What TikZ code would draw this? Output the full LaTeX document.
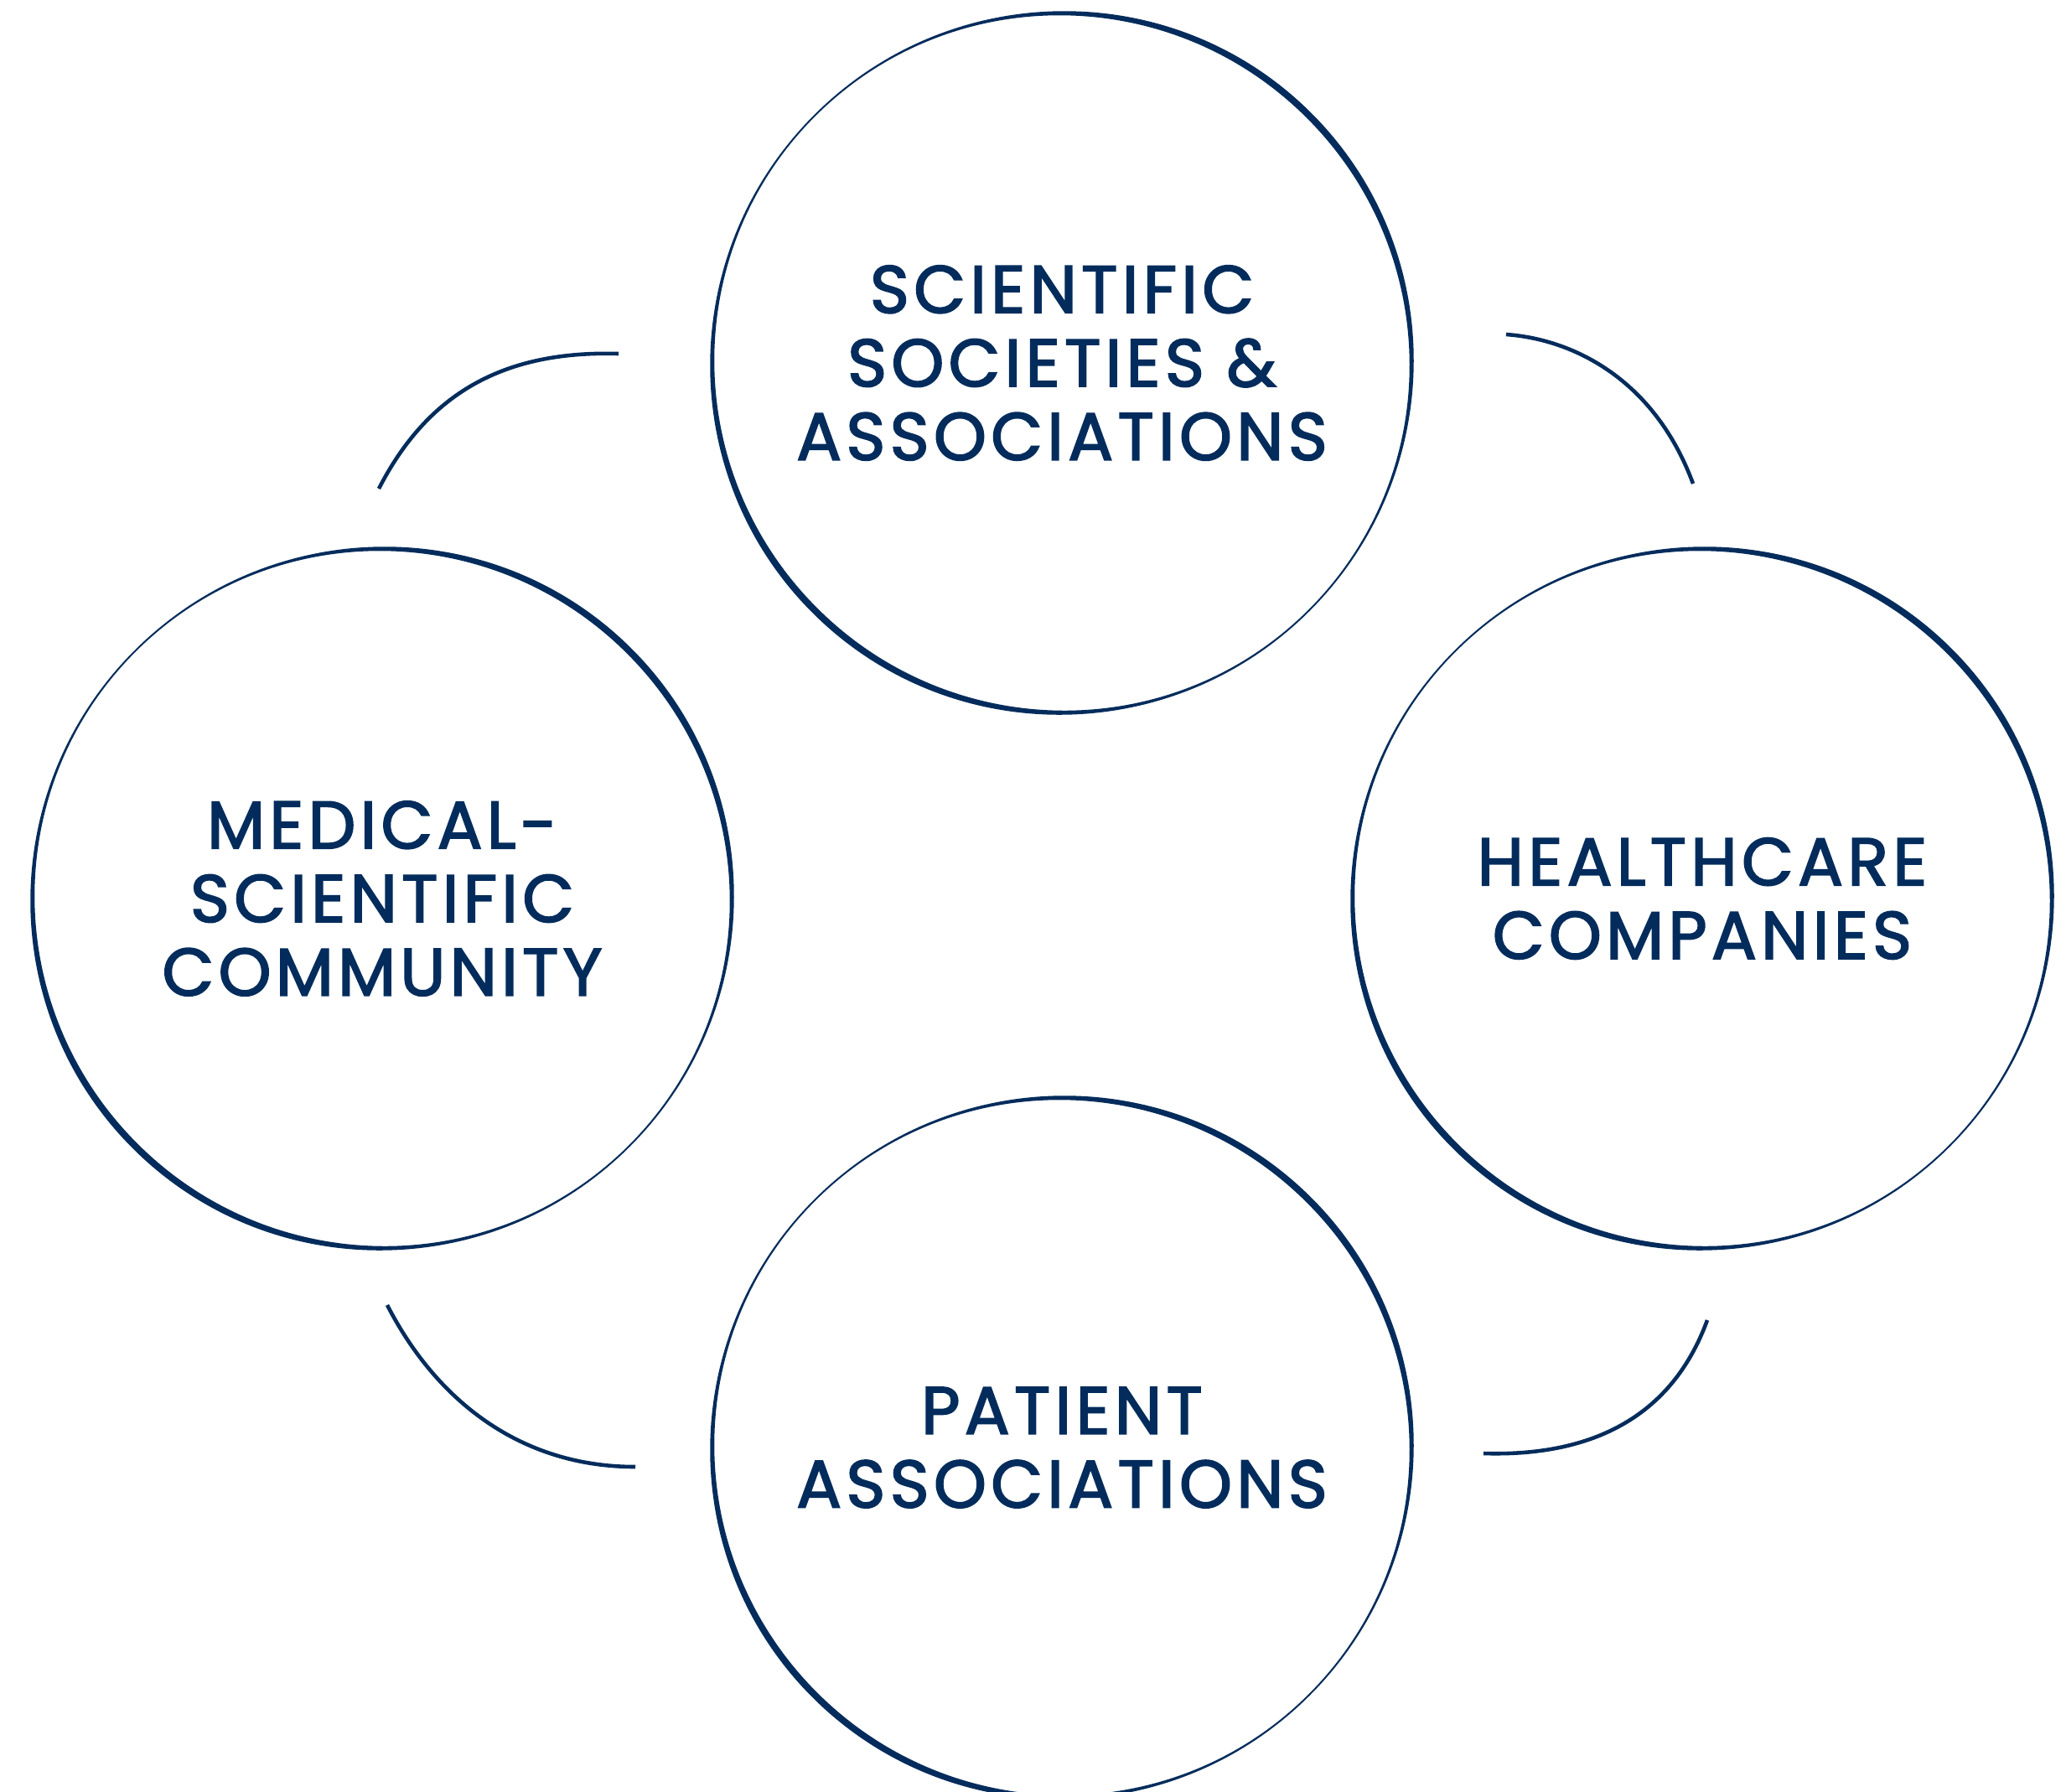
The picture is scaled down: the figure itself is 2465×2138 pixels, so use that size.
\documentclass[tikz,border=0pt]{standalone}
\usepackage{fontspec}
\setmainfont{Poppins}[LetterSpace=6.5,UprightFeatures={FakeBold=2.2}]
\definecolor{navy}{RGB}{3,44,92}
\begin{document}
\begin{tikzpicture}[x=0.01cm,y=-0.01cm,
  circ/.style={circle, minimum size=8.34cm, inner sep=0pt, align=center,
    text=navy, font=\fontsize{22.8}{24.95}\selectfont},
  link/.style={draw=navy, line width=1.3pt},
  ring/.style={fill=navy, even odd rule}]
\useasboundingbox (0,0) rectangle (2465,2138);
\node[circ] (soc) at (1267,433) {SCIENTIFIC\\SOCIETIES \&\\ASSOCIATIONS};
\node[circ] (med) at (456,1072) {MEDICAL-\\SCIENTIFIC\\COMMUNITY};
\node[circ] (hc)  at (2031,1072) {HEALTHCARE\\COMPANIES};
\node[circ] (pat) at (1267,1727) {PATIENT\\ASSOCIATIONS};
\foreach \n in {soc,med,hc,pat}{
  \begin{scope}[shift={(\n.center)}, rotate=45]
    \fill[ring] (0,0) ellipse [x radius=4.21cm, y radius=4.180cm]
                (0,0) ellipse [x radius=4.13cm, y radius=4.160cm];
  \end{scope}
}
\coordinate (ulA) at (738,422);   \coordinate (ulB) at (452,583);
\coordinate (urA) at (1797,399);  \coordinate (urB) at (2020,577);
\coordinate (llA) at (462,1557);  \coordinate (llB) at (758,1750);
\coordinate (lrA) at (1770,1734); \coordinate (lrB) at (2037,1575);
\draw[link] (ulA) .. controls (600,418) and (510,470) .. (ulB);
\draw[link] (urA) .. controls (1880,405) and (1975,455) .. (urB);
\draw[link] (llA) .. controls (520,1670) and (620,1750) .. (llB);
\draw[link] (lrA) .. controls (1900,1738) and (1995,1690) .. (lrB);
\end{tikzpicture}
\end{document}
